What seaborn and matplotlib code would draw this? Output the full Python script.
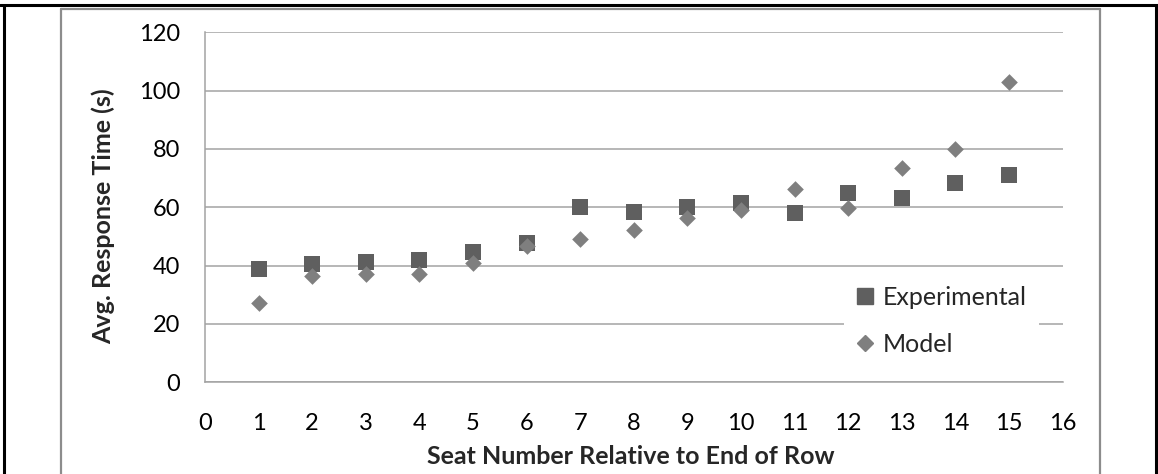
import pandas as pd
import seaborn as sns
import matplotlib.pyplot as plt
from matplotlib.lines import Line2D

# values
seats = list(range(1, 16))
experimental = [38.8, 40.6, 41.4, 42.0, 44.6, 47.9, 60.0, 58.5, 60.2, 61.6, 57.9, 64.8, 63.1, 68.2, 71.1]
model = [27.2, 36.5, 37.2, 37.1, 40.8, 46.7, 49.0, 52.2, 56.2, 59.1, 66.3, 59.7, 73.5, 79.9, 103.1]
series_names = ["Experimental", "Model"]
x_ticks = list(range(0, 17))
y_ticks = list(range(0, 121, 20))

df = pd.DataFrame({
    "seat": seats * 2,
    "time": experimental + model,
    "series": [series_names[0]] * len(seats) + [series_names[1]] * len(seats),
})

colors = {"Experimental": "#5f5f5f", "Model": "#7f7f7f"}
markers = {"Experimental": "s", "Model": "D"}
sizes = {"Experimental": 135, "Model": 72}

sns.set_style("white")
plt.rcParams["font.family"] = ["Lato", "DejaVu Sans"]

fig = plt.figure(figsize=(11.58, 4.74), dpi=100)
ax = fig.add_axes([0.177, 0.1934, 0.7406, 0.7385])

for name in series_names:
    sub = df[df["series"] == name]
    sns.scatterplot(data=sub, x="seat", y="time", color=colors[name],
                    marker=markers[name], s=sizes[name], linewidth=0,
                    ax=ax, zorder=3, legend=False)

grid_c = "#a3a3a3"
ax.set_xlim(0, 16)
ax.set_ylim(0, 120)
ax.set_xticks(x_ticks)
ax.set_yticks(y_ticks)
ax.yaxis.grid(True, color=grid_c, lw=1.1, zorder=0)
ax.xaxis.grid(False)
for side in ["top", "right"]:
    ax.spines[side].set_visible(False)
for side in ["left", "bottom"]:
    ax.spines[side].set_color(grid_c)
    ax.spines[side].set_linewidth(1.1)
ax.tick_params(axis="both", direction="out", length=5, width=1.1, color=grid_c,
               labelsize=17, labelcolor="black")
ax.tick_params(axis="x", pad=17)
ax.tick_params(axis="y", pad=13)

ax.set_xlabel("Seat Number Relative to End of Row", fontsize=18, fontweight="bold")
ax.set_ylabel("Avg. Response Time (s)", fontsize=18, fontweight="bold")
ax.xaxis.set_label_coords(0.497, -0.178)
ax.yaxis.set_label_coords(-0.105, 0.475)

handles = [Line2D([], [], ls="none", marker=markers[n], color=colors[n],
                  markersize=11 if n == "Experimental" else 8.5) for n in series_names]
leg = ax.legend(handles, series_names, loc="center left", bbox_to_anchor=(0.745, 0.175),
                frameon=True, facecolor="white", edgecolor="none", framealpha=1,
                fontsize=18, handlelength=0.7, handletextpad=0.35, labelspacing=0.95,
                borderpad=0.5, borderaxespad=0)
leg.set_zorder(5)

# grey chart-area border and black outer frame
frame_grey = "#8c8c8c"
fig.add_artist(Line2D([0.0527, 0.0527], [0, 0.982], transform=fig.transFigure, color=frame_grey, lw=1.6))
fig.add_artist(Line2D([0.0527, 0.9499], [0.982, 0.982], transform=fig.transFigure, color=frame_grey, lw=1.6))
fig.add_artist(Line2D([0.9499, 0.9499], [0, 0.982], transform=fig.transFigure, color=frame_grey, lw=1.6))
fig.add_artist(Line2D([0, 1], [0.9895, 0.9895], transform=fig.transFigure, color="black", lw=2.2))
fig.add_artist(Line2D([0.0035, 0.0035], [0, 0.9895], transform=fig.transFigure, color="black", lw=2.2))
fig.add_artist(Line2D([0.9983, 0.9983], [0, 0.9895], transform=fig.transFigure, color="black", lw=2.2))

fig.savefig("out.png", dpi=100)
